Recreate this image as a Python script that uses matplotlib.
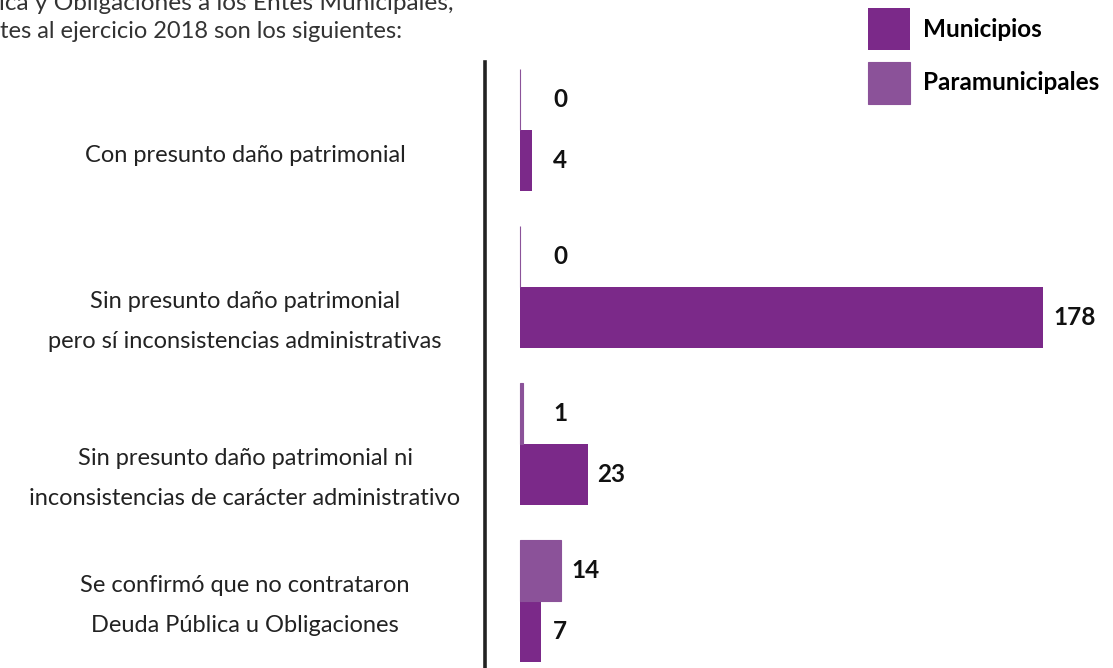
import matplotlib
matplotlib.use("Agg")
import matplotlib.pyplot as plt
import matplotlib.transforms as mtransforms

plt.rcParams['font.family'] = ['Lato', 'DejaVu Sans']

categories = [
    "Con presunto daño patrimonial",
    "Sin presunto daño patrimonial\npero sí inconsistencias administrativas",
    "Sin presunto daño patrimonial ni\ninconsistencias de carácter administrativo",
    "Se confirmó que no contrataron\nDeuda Pública u Obligaciones",
]
municipios = [4, 178, 23, 7]
paramunicipales = [0, 0, 1, 14]
series_names = ["Municipios", "Paramunicipales"]

header_line1 = "ica y Obligaciones a los Entes Municipales,"
header_line2 = "tes al ejercicio 2018 son los siguientes:"

COL_MUN = "#7B2989"
COL_PAR = "#8B5299"

W, H = 1113, 668
fig = plt.figure(figsize=(W / 100, H / 100), dpi=100)

# axes: left spine at 485px, top at 62px
left_px, top_px = 485, 62
ax = fig.add_axes([left_px / W, 0, 1 - left_px / W, 1 - top_px / H])
px_per_unit = 2.94
zero_px = 520
xmin = -(zero_px - left_px) / px_per_unit
xmax = (W - zero_px) / px_per_unit
ax.set_xlim(xmin, xmax)

grp_px = 157
first_px = 130
ax.set_ylim((H - first_px) / grp_px, (top_px - first_px) / grp_px)

bh = 61 / grp_px
pos = list(range(len(categories)))
bars_m = ax.barh([p + bh / 2 for p in pos], municipios, height=bh, color=COL_MUN,
                 label=series_names[0])
bars_p = ax.barh([p - bh / 2 for p in pos], paramunicipales, height=bh, color=COL_PAR,
                 edgecolor=COL_PAR, linewidth=0.8, label=series_names[1])

for s in ['top', 'right', 'bottom']:
    ax.spines[s].set_visible(False)
ax.spines['left'].set_linewidth(2.6)
ax.spines['left'].set_color('#222222')
ax.set_xticks([])
ax.set_yticks([])

VAL_FS = 17.5
off = 10 / px_per_unit
minx = (553 - zero_px) / px_per_unit
for p, v in zip(pos, municipios):
    ax.text(max(v + off, minx), p + bh / 2, str(v), ha='left', va='center',
            fontsize=VAL_FS, fontweight='bold', color='#111111')
for p, v in zip(pos, paramunicipales):
    ax.text(max(v + off, minx), p - bh / 2, str(v), ha='left', va='center',
            fontsize=VAL_FS, fontweight='bold', color='#111111')

# category labels
label_offsets = [0.16, 0.22, 0.22, 0.03]
trans = mtransforms.blended_transform_factory(fig.transFigure, ax.transData)
for p, lab, o in zip(pos, categories, label_offsets):
    ax.text(245 / W, p + o, lab, transform=trans, ha='center', va='center',
            fontsize=17, color='#222222', linespacing=2.15, multialignment='center')

# header text (partially visible, as in the source)
fig.text(-1 / W, 1 - 3 / H, header_line1, ha='left', va='center', fontsize=17.6, color='#333333')
fig.text(0, 1 - 32 / H, header_line2, ha='left', va='center', fontsize=17, color='#333333')

LEG_FS = 17.5
fig.legend(handles=[bars_m, bars_p], labels=series_names, loc='upper left',
           bbox_to_anchor=(868 / W, 1 - 8 / H), frameon=False, borderpad=0,
           borderaxespad=0, handlelength=1.73, handleheight=2.28,
           handletextpad=0.53, labelspacing=0.49,
           prop={'weight': 'bold', 'size': LEG_FS})

fig.savefig("out.png", dpi=100)
